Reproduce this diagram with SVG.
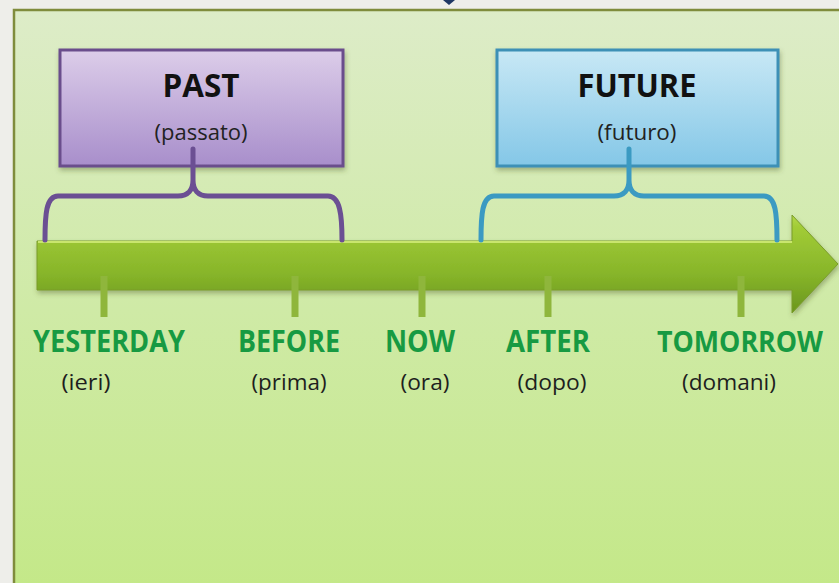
<svg xmlns="http://www.w3.org/2000/svg" width="839" height="583" viewBox="0 0 839 583">
<defs>
<linearGradient id="bg" x1="0" y1="0" x2="0" y2="1">
<stop offset="0" stop-color="#ddecc8"/>
<stop offset="0.5" stop-color="#cfeaa6"/>
<stop offset="1" stop-color="#c3e886"/>
</linearGradient>
<linearGradient id="arrowG" x1="0" y1="0" x2="0" y2="1">
<stop offset="0" stop-color="#b4d94a"/>
<stop offset="0.12" stop-color="#a2cc36"/>
<stop offset="0.6" stop-color="#87b52a"/>
<stop offset="1" stop-color="#6a961c"/>
</linearGradient>
<linearGradient id="purpleG" x1="0" y1="0" x2="0" y2="1">
<stop offset="0" stop-color="#dccde9"/>
<stop offset="1" stop-color="#a88ecb"/>
</linearGradient>
<linearGradient id="blueG" x1="0" y1="0" x2="0" y2="1">
<stop offset="0" stop-color="#c8e8f5"/>
<stop offset="1" stop-color="#84c7e7"/>
</linearGradient>
<filter id="sh" x="-10%" y="-10%" width="130%" height="140%">
<feDropShadow dx="1" dy="3" stdDeviation="2.5" flood-color="#4a5a20" flood-opacity="0.4"/>
</filter>
</defs>
<style>
.box{stroke-width:3}
.title{font-family:"Open Sans","Liberation Sans",sans-serif;font-weight:bold;font-size:33px;fill:#111111;text-anchor:middle}
.sub{font-family:"Open Sans","Liberation Sans",sans-serif;font-size:21px;fill:#222222;text-anchor:middle}
.lbl{font-family:"Open Sans","Liberation Sans",sans-serif;font-weight:bold;font-size:31px;fill:#179a42;text-anchor:middle}
.tr{font-family:"Open Sans","Liberation Sans",sans-serif;font-size:22px;fill:#1e1e1e;text-anchor:middle}
.brace{fill:none;stroke-width:5;stroke-linecap:round;stroke-linejoin:round}
.tick{stroke:#8fb63c;stroke-width:7}
</style>
<rect x="0" y="0" width="839" height="583" fill="#eeeeea"/>
<polygon points="443,0 455,0 449,5" fill="#1f3864"/>
<rect x="14" y="10" width="840" height="600" fill="url(#bg)" stroke="#7f8c3c" stroke-width="2.5"/>

<g id="timeline">
<path d="M37,241 L792,241 L792,215 L838,264 L792,313 L792,290 L37,290 Z" fill="url(#arrowG)" stroke="#7a9c2a" stroke-width="1" filter="url(#sh)"/>
<path d="M38,242 L792,242" stroke="#c9e56e" stroke-width="2"/>
<line class="tick" x1="104" y1="276" x2="104" y2="317"/>
<line class="tick" x1="295" y1="276" x2="295" y2="317"/>
<line class="tick" x1="422" y1="276" x2="422" y2="317"/>
<line class="tick" x1="548" y1="276" x2="548" y2="317"/>
<line class="tick" x1="741" y1="276" x2="741" y2="317"/>
</g>

<g id="past">
<rect class="box" x="60" y="50" width="283" height="116" fill="url(#purpleG)" stroke="#6a4e8c" filter="url(#sh)"/>
<text class="title" x="201" y="97" textLength="77" lengthAdjust="spacingAndGlyphs">PAST</text>
<text class="sub" x="201" y="140" textLength="93" lengthAdjust="spacingAndGlyphs">(passato)</text>
</g>

<g id="future">
<rect class="box" x="497" y="50" width="281" height="116" fill="url(#blueG)" stroke="#3d90b6" filter="url(#sh)"/>
<text class="title" x="637" y="97" textLength="119" lengthAdjust="spacingAndGlyphs">FUTURE</text>
<text class="sub" x="637" y="140" textLength="79" lengthAdjust="spacingAndGlyphs">(futuro)</text>
</g>

<g id="connectors">
<path class="brace" stroke="#6b4f93" d="M45,240 C45,215 46,196 58,196 L178,196 C188,196 193,190 193,180 L193,149 M193,180 C193,190 198,196 208,196 L328,196 C340,196 342,215 342,240"/>
<path class="brace" stroke="#3b9ac2" d="M481,240 C481,215 482,196 494,196 L614,196 C624,196 629,190 629,180 L629,149 M629,180 C629,190 634,196 644,196 L764,196 C776,196 777,215 777,240"/>
</g>

<g id="yesterday">
<text class="lbl" x="109" y="352" textLength="152" lengthAdjust="spacingAndGlyphs">YESTERDAY</text>
<text class="tr" x="86" y="390" textLength="49" lengthAdjust="spacingAndGlyphs">(ieri)</text>
</g>
<g id="before">
<text class="lbl" x="289" y="352" textLength="102" lengthAdjust="spacingAndGlyphs">BEFORE</text>
<text class="tr" x="289" y="390" textLength="75" lengthAdjust="spacingAndGlyphs">(prima)</text>
</g>
<g id="now">
<text class="lbl" x="420" y="352" textLength="70" lengthAdjust="spacingAndGlyphs">NOW</text>
<text class="tr" x="425" y="390" textLength="49" lengthAdjust="spacingAndGlyphs">(ora)</text>
</g>
<g id="after">
<text class="lbl" x="548" y="352" textLength="84" lengthAdjust="spacingAndGlyphs">AFTER</text>
<text class="tr" x="552" y="390" textLength="69" lengthAdjust="spacingAndGlyphs">(dopo)</text>
</g>
<g id="tomorrow">
<text class="lbl" x="740" y="352" style="font-size:28px" textLength="166" lengthAdjust="spacingAndGlyphs">TOMORROW</text>
<text class="tr" x="729" y="390" textLength="94" lengthAdjust="spacingAndGlyphs">(domani)</text>
</g>
</svg>
